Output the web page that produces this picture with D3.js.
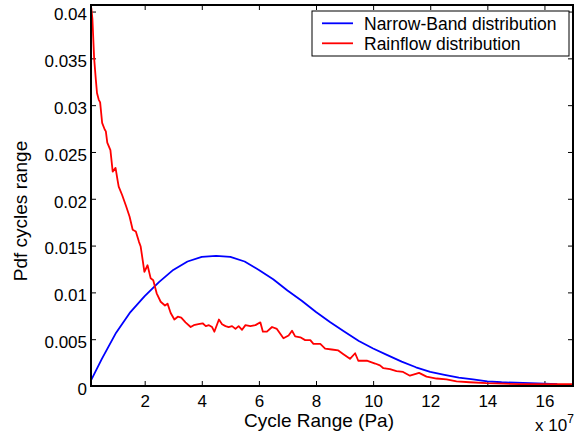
<!DOCTYPE html>
<html>
<head>
<meta charset="utf-8">
<script src="https://cdn.jsdelivr.net/npm/d3@7"></script>
<style>
  html, body { margin: 0; padding: 0; background: #ffffff; }
  svg { display: block; }
  text { font-family: "Liberation Sans", Arial, Helvetica, sans-serif; fill: #000; }
</style>
</head>
<body>
<svg id="chart" width="576" height="438"></svg>
<script>
// ---- data (cycle range in units of 1e7 Pa) ----
const seriesNames = ["Narrow-Band distribution", "Rainflow distribution"];
const seriesColors = ["#0000ff", "#ff0000"];

const narrowBandX = [0.12, 0.5, 1.0, 1.5, 2.0, 2.5, 3.0, 3.5, 4.0, 4.5, 5.0, 5.5, 6.0, 6.5, 7.0, 7.5, 8.0, 8.5, 9.0, 9.5, 10.0, 10.5, 11.0, 11.5, 12.0, 12.5, 13.0, 13.5, 14.0, 14.5, 15.0, 15.5, 16.0, 16.45];
const narrowBandY = [0.0006, 0.0029, 0.0057, 0.0079, 0.0096, 0.0111, 0.0124, 0.0133, 0.0138, 0.0139, 0.0138, 0.0133, 0.0124, 0.0114, 0.0102, 0.0091, 0.0079, 0.0068, 0.0058, 0.0048, 0.0040, 0.0033, 0.0026, 0.0020, 0.0015, 0.0012, 0.0009, 0.0007, 0.0005, 0.0004, 0.00035, 0.0003, 0.00025, 0.0002];

const rainflowX = [0.13, 0.17, 0.23, 0.29, 0.33, 0.39, 0.44, 0.51, 0.60, 0.64, 0.69, 0.80, 0.88, 0.98, 1.05, 1.09, 1.21, 1.35, 1.47, 1.58, 1.69, 1.80, 1.86, 1.99, 2.10, 2.21, 2.30, 2.42, 2.56, 2.71, 2.80, 2.91, 3.04, 3.16, 3.28, 3.43, 3.61, 3.72, 3.88, 4.03, 4.14, 4.25, 4.36, 4.44, 4.60, 4.71, 4.83, 4.94, 5.06, 5.18, 5.29, 5.41, 5.53, 5.70, 5.88, 6.05, 6.14, 6.28, 6.46, 6.63, 6.86, 7.04, 7.16, 7.27, 7.45, 7.62, 7.80, 7.91, 8.15, 8.32, 8.55, 8.78, 8.96, 9.19, 9.37, 9.48, 9.78, 10.07, 10.24, 10.36, 10.59, 10.82, 11.05, 11.29, 11.61, 11.87, 12.22, 12.57, 12.92, 13.38, 13.97, 14.55, 15.13, 15.94, 17.0];
const rainflowY = [0.0404, 0.0392, 0.0350, 0.0327, 0.0313, 0.0306, 0.0303, 0.0281, 0.0274, 0.0272, 0.0260, 0.0252, 0.0229, 0.0233, 0.0220, 0.0213, 0.0204, 0.0192, 0.0181, 0.0167, 0.0165, 0.0154, 0.0149, 0.0122, 0.0129, 0.0115, 0.0113, 0.0099, 0.0090, 0.0086, 0.0088, 0.0078, 0.0071, 0.0074, 0.0073, 0.0068, 0.0063, 0.0065, 0.0066, 0.0067, 0.0064, 0.0065, 0.0063, 0.0058, 0.0071, 0.0066, 0.0064, 0.0063, 0.0064, 0.0061, 0.0064, 0.0060, 0.0065, 0.0064, 0.0065, 0.0068, 0.0058, 0.0058, 0.0063, 0.0061, 0.0051, 0.0054, 0.0059, 0.0053, 0.0052, 0.0049, 0.0049, 0.0045, 0.0045, 0.0040, 0.0039, 0.0038, 0.0034, 0.0029, 0.0035, 0.0027, 0.0027, 0.0024, 0.0022, 0.0019, 0.0018, 0.0016, 0.0015, 0.0011, 0.0014, 0.0010, 0.0008, 0.0007, 0.0005, 0.0004, 0.0003, 0.00025, 0.0002, 0.0002, 0.0002];

const xTicks = [2, 4, 6, 8, 10, 12, 14, 16];
const yTicks = [0, 0.005, 0.01, 0.015, 0.02, 0.025, 0.03, 0.035, 0.04];
const yTickLabels = ["0", "0.005", "0.01", "0.015", "0.02", "0.025", "0.03", "0.035", "0.04"];
const xLabel = "Cycle Range (Pa)";
const yLabel = "Pdf cycles range";

// ---- layout ----
const L = 91, R = 573, T = 5, B = 386;
const svg = d3.select("#chart");

const x = d3.scaleLinear().domain([0.12, 17.0]).range([L, R]);
const y = d3.scaleLinear().domain([0, 0.0407]).range([B, T]);

svg.append("defs").append("clipPath").attr("id", "clip")
  .append("rect").attr("x", L).attr("y", T).attr("width", R - L).attr("height", B - T);

// ticks (inward, all four sides)
const tl = 5;
const xAxisB = d3.axisBottom(x).tickValues(xTicks).tickSizeInner(-tl).tickSizeOuter(0).tickFormat(d3.format("d")).tickPadding(10);
const xAxisT = d3.axisTop(x).tickValues(xTicks).tickSizeInner(-tl).tickSizeOuter(0).tickFormat("");
const yAxisL = d3.axisLeft(y).tickValues(yTicks).tickSizeInner(-tl).tickSizeOuter(0).tickFormat((d, i) => yTickLabels[i]).tickPadding(8);
const yAxisR = d3.axisRight(y).tickValues(yTicks).tickSizeInner(-tl).tickSizeOuter(0).tickFormat("");

function styleAxis(g) {
  g.select(".domain").remove();
  g.selectAll(".tick line").attr("stroke", "#000").attr("stroke-width", 1);
  g.selectAll(".tick text").attr("font-size", "17px").attr("fill", "#000")
    .style("font-family", '"Liberation Sans", Arial, Helvetica, sans-serif');
}

const gxB = svg.append("g").attr("transform", `translate(0,${B})`).call(xAxisB).call(styleAxis);
gxB.selectAll(".tick text").attr("dy", null).attr("y", 20.5);
svg.append("g").attr("transform", `translate(0,${T})`).call(xAxisT).call(styleAxis);
const gyL = svg.append("g").attr("transform", `translate(${L},0)`).call(yAxisL).call(styleAxis);
gyL.selectAll(".tick text").attr("dy", null).attr("x", -4).attr("y", 8.3);
svg.append("g").attr("transform", `translate(${R},0)`).call(yAxisR).call(styleAxis);

// data lines
const line = d3.line().x(d => x(d[0])).y(d => y(d[1]));
const nbData = narrowBandX.map((v, i) => [v, narrowBandY[i]]);
const rfData = rainflowX.map((v, i) => [v, rainflowY[i]]);
const plot = svg.append("g").attr("clip-path", "url(#clip)");
plot.append("path").datum(nbData).attr("d", line).attr("fill", "none")
  .attr("stroke", seriesColors[0]).attr("stroke-width", 1.8).attr("stroke-linejoin", "round");
plot.append("path").datum(rfData).attr("d", line).attr("fill", "none")
  .attr("stroke", seriesColors[1]).attr("stroke-width", 1.8).attr("stroke-linejoin", "round");

// axes box
svg.append("rect").attr("x", L).attr("y", T).attr("width", R - L).attr("height", B - T)
  .attr("fill", "none").attr("stroke", "#000").attr("stroke-width", 2);

// axis labels
svg.append("text").attr("x", 319).attr("y", 427).attr("text-anchor", "middle")
  .attr("font-size", "19px").text(xLabel);
svg.append("text").attr("transform", "translate(27,211) rotate(-90)").attr("text-anchor", "middle")
  .attr("font-size", "19px").text(yLabel);

// exponent
const ex = svg.append("text").attr("x", 535).attr("y", 431).attr("font-size", "17px");
ex.append("tspan").text("x 10");
ex.append("tspan").attr("font-size", "12px").attr("dy", -8).text("7");

// legend
const lg = svg.append("g");
lg.append("rect").attr("x", 312).attr("y", 11).attr("width", 257).attr("height", 45)
  .attr("fill", "#fff").attr("stroke", "#000").attr("stroke-width", 1);
const legendY = [23.3, 43.3];
seriesNames.forEach((name, i) => {
  lg.append("line").attr("x1", 322).attr("x2", 353).attr("y1", legendY[i]).attr("y2", legendY[i])
    .attr("stroke", seriesColors[i]).attr("stroke-width", 1.8);
  lg.append("text").attr("x", 364).attr("y", legendY[i] + 6.3).attr("font-size", "17.5px").text(name);
});
</script>
</body>
</html>
